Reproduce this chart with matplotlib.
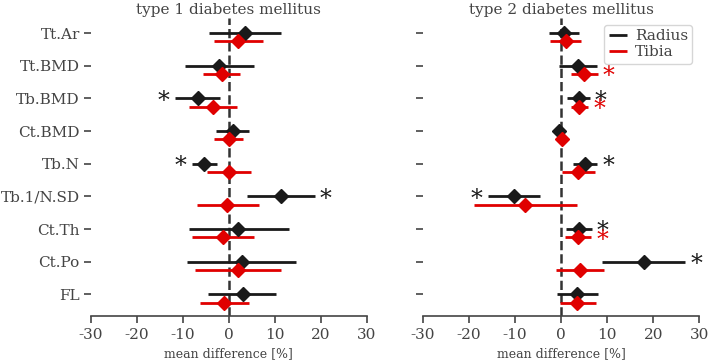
import matplotlib
matplotlib.use("Agg")
import matplotlib.pyplot as plt
import numpy as np

plt.rcParams['font.family'] = 'DejaVu Serif'
plt.rcParams['axes.unicode_minus'] = False
plt.rcParams['text.color'] = '#444444'
plt.rcParams['axes.labelcolor'] = '#444444'
plt.rcParams['xtick.color'] = '#444444'
plt.rcParams['ytick.color'] = '#444444'

params = ['Tt.Ar', 'Tt.BMD', 'Tb.BMD', 'Ct.BMD', 'Tb.N', 'Tb.1/N.SD', 'Ct.Th', 'Ct.Po', 'FL']
titles = ['type 1 diabetes mellitus', 'type 2 diabetes mellitus']

# type 1: mean, lower, upper
t1_rad_mean = [3.5, -2.1, -6.8, 0.9, -5.3, 11.4, 2.1, 2.9, 3.0]
t1_rad_lo = [-4.4, -9.6, -11.8, -2.8, -8.0, 4.0, -8.7, -9.0, -4.5]
t1_rad_hi = [11.4, 5.6, -2.0, 4.4, -2.5, 18.7, 13.2, 14.6, 10.2]
t1_tib_mean = [2.1, -1.5, -3.4, 0.0, 0.05, -0.3, -1.2, 2.0, -1.0]
t1_tib_lo = [-3.3, -5.5, -8.6, -3.3, -4.7, -7.0, -8.0, -7.4, -6.3]
t1_tib_hi = [7.5, 2.5, 1.9, 3.2, 4.9, 6.5, 5.4, 11.3, 4.3]
t1_rad_sig = [False, False, True, False, True, True, False, False, False]
t1_tib_sig = [False] * 9

# type 2
t2_rad_mean = [0.7, 3.7, 3.8, -0.4, 5.2, -10.2, 3.9, 18.0, 3.5]
t2_rad_lo = [-2.6, -0.4, 1.4, -0.8, 2.5, -15.9, 1.15, 9.0, -0.8]
t2_rad_hi = [4.0, 7.8, 6.2, 0.0, 7.9, -4.5, 6.7, 26.9, 8.0]
t2_tib_mean = [1.1, 5.1, 4.0, 0.3, 3.6, -7.8, 3.7, 4.1, 3.5]
t2_tib_lo = [-2.3, 2.2, 2.2, 0.0, 0.2, -18.9, 0.9, -1.1, -0.3]
t2_tib_hi = [4.3, 8.0, 5.9, 0.6, 7.4, 3.4, 6.6, 9.3, 7.5]
t2_rad_sig = [False, False, True, False, True, True, True, True, False]
t2_tib_sig = [False, True, True, False, False, False, True, False, False]

panels = [
    (t1_rad_mean, t1_rad_lo, t1_rad_hi, t1_rad_sig, t1_tib_mean, t1_tib_lo, t1_tib_hi, t1_tib_sig),
    (t2_rad_mean, t2_rad_lo, t2_rad_hi, t2_rad_sig, t2_tib_mean, t2_tib_lo, t2_tib_hi, t2_tib_sig),
]

fig = plt.figure(figsize=(7.08, 3.6), dpi=100)
ax1 = fig.add_axes([0.1285, 0.123, 0.3892, 0.827])
ax2 = fig.add_axes([0.597, 0.123, 0.3907, 0.827])
y = np.arange(len(params))

for ax, title, p in zip([ax1, ax2], titles, panels):
    rm, rl, rh, rs, tm, tl, th, ts = [np.array(v) for v in p]
    ax.axvline(0, color='#333333', ls='--', lw=1.8, zorder=1)
    for mean, lo, hi, sig, off, col, lab in [(rm, rl, rh, rs, 0.0, '#1a1a1a', 'Radius'),
                                            (tm, tl, th, ts, 0.25, '#e00000', 'Tibia')]:
        yy = y + off
        ax.hlines(yy, lo, hi, color=col, lw=2, zorder=2, label=lab)
        ax.plot(mean, yy, 'D', color=col, ms=7, zorder=3)
        for i in range(len(mean)):
            if sig[i]:
                if mean[i] < 0:
                    ax.annotate('*', (lo[i], yy[i]), xytext=(-8, -2), textcoords='offset points',
                                ha='center', va='center', fontsize=17, color=col)
                else:
                    ax.annotate('*', (hi[i], yy[i]), xytext=(8, -2), textcoords='offset points',
                                ha='center', va='center', fontsize=17, color=col)
    ax.set_xlim(-30, 30)
    ax.set_ylim(8.65, -0.46)
    ax.set_yticks(y)
    ax.set_xticks(np.arange(-30, 31, 10))
    ax.set_title(title, fontsize=11, pad=3)
    ax.set_xlabel('mean difference [%]', fontsize=9)
    for s in ['top', 'right', 'left']:
        ax.spines[s].set_visible(False)
    ax.spines['bottom'].set_color('#444444')
    ax.spines['bottom'].set_linewidth(1.2)
    ax.tick_params(axis='x', labelsize=11, length=5, width=1.2)
    ax.tick_params(axis='y', labelsize=11, length=5, width=1.2, pad=3)

ax1.set_yticklabels(params)
ax2.set_yticklabels([])
ax2.legend(loc='upper right', fontsize=11, handlelength=1.2, borderpad=0.3,
           labelspacing=0.1, handletextpad=0.5, borderaxespad=0.45)

fig.savefig('out.png', dpi=100)
